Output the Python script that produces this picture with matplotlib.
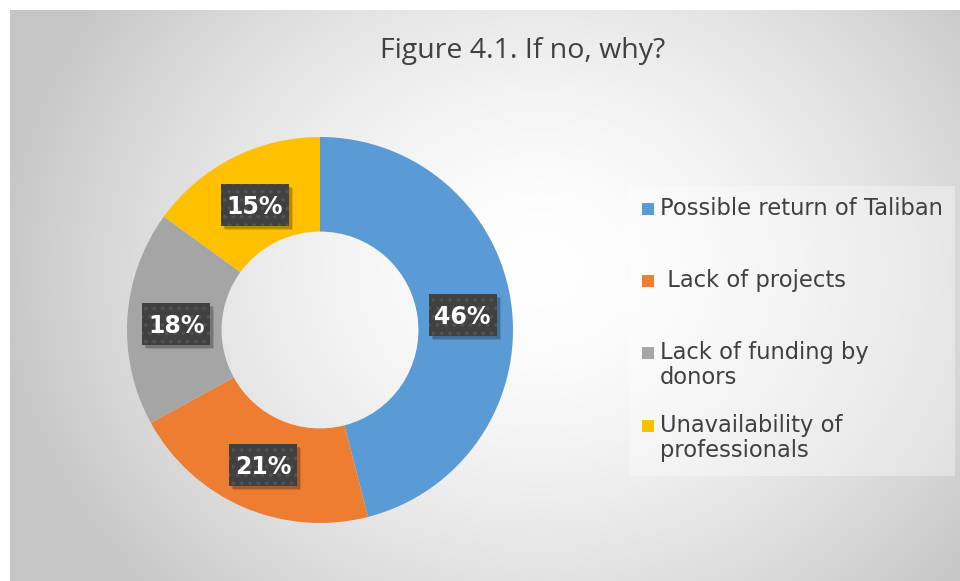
import matplotlib.pyplot as plt
import numpy as np
from matplotlib.patches import Rectangle

title = "Figure 4.1. If no, why?"
reasons = ["Possible return of Taliban", " Lack of projects",
           "Lack of funding by\ndonors", "Unavailability of\nprofessionals"]
shares = [46, 21, 18, 15]
colors = ["#5B9BD5", "#ED7D31", "#A5A5A5", "#FFC000"]

W, H = 960, 581
fig = plt.figure(figsize=(W / 100, H / 100), dpi=100)
fig.patch.set_facecolor("white")

# chart area with a soft radial gradient
bg = fig.add_axes([10 / W, 0, 1 - 10 / W, 1 - 10 / H])
bg.set_axis_off()
xx, yy = np.meshgrid(np.linspace(10, W, 400), np.linspace(10, H, 250))
d = np.sqrt((xx - 540) ** 2 + ((yy - 270) * 1.15) ** 2) / 540
d = np.clip(d, 0, 1) ** 1.6
shade = 1.0 - d * (1.0 - 0.78)
bg.imshow(np.dstack([shade] * 3), extent=[0, 1, 0, 1], aspect="auto",
          interpolation="bicubic", origin="upper")
bg.set_xlim(0, 1)
bg.set_ylim(0, 1)

fig.text(523 / W, 1 - 51 / H, title, ha="center", va="center",
         fontsize=20.5, color="#404040", family="Open Sans")

# donut
cx, cy, r = 320, 330, 193
ax = fig.add_axes([(cx - r) / W, (H - cy - r) / H, 2 * r / W, 2 * r / H])
wedges, _ = ax.pie(shares, colors=colors, startangle=90, counterclock=False,
                   radius=1, wedgeprops=dict(width=0.49, edgecolor="none"))
ax.set_xlim(-1, 1)
ax.set_ylim(-1, 1)
ax.set_aspect("equal")

# value labels on dark dotted boxes with a drop shadow
plt.rcParams["hatch.color"] = "#515151"
plt.rcParams["hatch.linewidth"] = 1.5
bw, bh = 68 / r, 42 / r  # box size in data units (1 unit = r px)
total = sum(shares)
start = 90.0
for val in shares:
    mid = np.radians(start - val / total * 360 / 2)
    start -= val / total * 360
    x, y = 0.745 * np.cos(mid), 0.745 * np.sin(mid) - 0.015
    for k, a in [(4, 0.12), (3, 0.18)]:
        ax.add_patch(Rectangle((x - bw / 2 + k / r, y - bh / 2 - k / r), bw, bh,
                               facecolor="black", alpha=a, edgecolor="none",
                               zorder=3))
    ax.add_patch(Rectangle((x - bw / 2, y - bh / 2), bw, bh,
                           facecolor="#404040", edgecolor="#515151", lw=0,
                           hatch="..", zorder=4))
    ax.text(x, y, f"{val}%", ha="center", va="center_baseline", fontsize=17,
            fontweight="bold", color="white", zorder=5)

# legend
fig.patches.append(Rectangle((629 / W, 1 - 476 / H), (955 - 629) / W,
                             (476 - 186) / H, transform=fig.transFigure,
                             facecolor="white", alpha=0.35, edgecolor="none"))
ys = [209, 281, 353, 426]
for name, col, yc in zip(reasons, colors, ys):
    fig.patches.append(Rectangle((642 / W, 1 - (yc + 6) / H), 12 / W, 12 / H,
                                 transform=fig.transFigure, facecolor=col,
                                 edgecolor="none"))
    fig.text(660 / W, 1 - (yc - 12) / H, name, ha="left", va="top",
             fontsize=16.3, color="#404040", family="DejaVu Sans",
             linespacing=1.12)

fig.savefig("out.png", dpi=100)
